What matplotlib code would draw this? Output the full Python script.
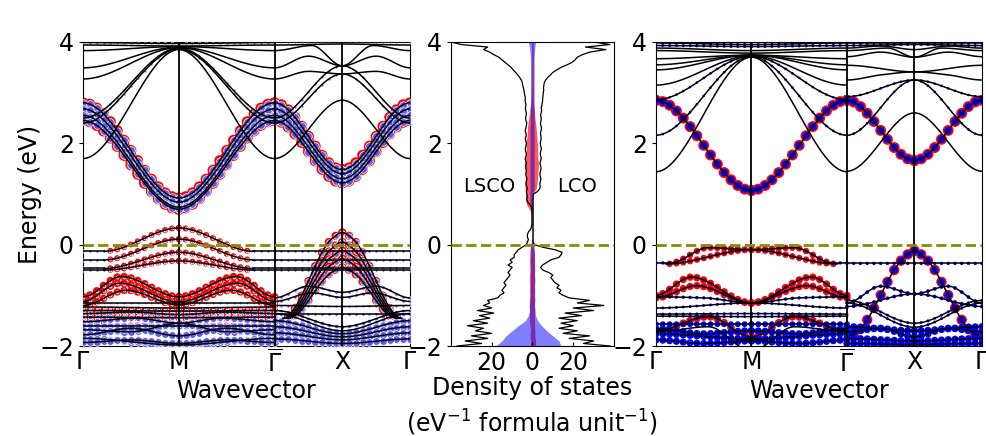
import numpy as np
import matplotlib.pyplot as plt

# path Γ - M - Γ̄ - X - Γ (Γ-M taken as unit length)
k_ticks = [0.0, 1.0, 2.0, 2.707, 3.414]
k_names = [r'$\Gamma$', 'M', r'$\overline{\Gamma}$', 'X', r'$\Gamma$']

# Each band: (red weight, blue weight, nodes). Nodes are (fraction, energy eV)
# along Γ->M (mirrored onto M->Γ̄) or along Γ̄->X (mirrored onto X->Γ).
lsco_gm = [
    (0, 0.15, [(0, 3.99), (1, 3.97)]),
    (0, 0, [(0, 3.94), (1, 3.92)]),
    (0, 0, [(0, 3.83), (1, 3.91)]),
    (0, 0, [(0, 3.49), (1, 3.90)]),
    (0, 0, [(0, 3.27), (1, 3.89)]),
    (0, 0.15, [(0, 2.50), (1, 3.88)]),
    (0, 0.15, [(0, 2.40), (1, 3.86)]),
    (0, 0, [(0, 1.70), (1, 3.85)]),
    (1, 1, [(0, 2.80), (1, 0.92)]),
    (1, 1, [(0, 2.68), (1, 0.84)]),
    (1, 1, [(0, 2.55), (1, 0.74)]),
    (1, 1, [(0, 2.45), (1, 0.70)]),
    (0, 0.18, [(0, -0.13), (0.22, -0.13)]),
    (0.3, 0.15, [(0.22, -0.13), (1, 0.33)]),
    (0, 0.18, [(0, -0.30), (0.22, -0.30)]),
    (0.3, 0.15, [(0.22, -0.30), (1, 0.11)]),
    (0, 0.18, [(0, -0.47), (0.22, -0.47)]),
    (0.3, 0.15, [(0.22, -0.47), (1, -0.15)]),
    (0, 0.18, [(0, -0.50), (0.22, -0.50)]),
    (0.3, 0.15, [(0.22, -0.50), (1, -0.32)]),
    (0.5, 0.15, [(0, -1.03), (0.40, -0.63), (1, -1.03)]),
    (0.5, 0.15, [(0, -1.12), (0.38, -0.76), (1, -1.13)]),
    (0.45, 0.15, [(0, -1.20), (0.45, -0.90), (1, -1.19)]),
    (0, 0.12, [(0, -1.16), (1, -1.16)]),
    (0, 0.12, [(0, -1.23), (1, -1.25)]),
    (0.4, 0.3, [(0, -1.30), (1, -1.31)]),
    (0.4, 0.3, [(0, -1.36), (0.5, -1.33), (1, -1.38)]),
    (0.4, 0.4, [(0, -1.43), (1, -1.44)]),
    (0.35, 0.6, [(0, -1.52), (0.55, -1.45), (1, -1.55)]),
    (0.35, 0.8, [(0, -1.60), (1, -1.60)]),
    (0.3, 1.0, [(0, -1.68), (0.5, -1.72), (1, -1.55)]),
    (0.35, 1.0, [(0, -1.78), (0.5, -1.65), (1, -1.80)]),
    (0.3, 1.0, [(0, -1.85), (1, -1.98)]),
    (0.3, 1.0, [(0, -1.93), (0.5, -1.88), (1, -1.95)]),
]
lsco_gx = [
    (0, 0.15, [(0, 3.99), (1, 3.99)]),
    (0, 0, [(0, 3.94), (1, 3.96)]),
    (0, 0, [(0, 3.83), (0.55, 3.93), (1, 3.53)]),
    (0, 0, [(0, 3.49), (0.5, 3.72), (1, 3.53)]),
    (0, 0, [(0, 3.27), (0.5, 3.42), (1, 3.37)]),
    (0, 0.15, [(0, 2.50), (1, 3.53)]),
    (0, 0.15, [(0, 2.40), (1, 3.37)]),
    (0, 0, [(0, 1.70), (1, 2.85)]),
    (1, 1, [(0, 2.80), (1, 1.48)]),
    (1, 1, [(0, 2.68), (1, 1.40)]),
    (1, 1, [(0, 2.55), (1, 1.30)]),
    (1, 1, [(0, 2.45), (1, 1.22)]),
    (0, 0.18, [(0, -0.13), (1, -0.13)]),
    (0, 0.18, [(0, -0.30), (1, -0.30)]),
    (0, 0.18, [(0, -0.46), (1, -0.46)]),
    (0, 0.18, [(0, -0.50), (1, -0.50)]),
    (0.55, 0.5, [(0.12, -1.45), (0.85, 0.12), (1, 0.24)]),
    (0.55, 0.5, [(0.14, -1.45), (0.85, -0.07), (1, 0.05)]),
    (0.55, 0.5, [(0.16, -1.45), (0.85, -0.23), (1, -0.12)]),
    (0.55, 0.5, [(0.18, -1.45), (0.85, -0.38), (1, -0.28)]),
    (0.55, 0.5, [(0.20, -1.45), (0.85, -0.54), (1, -0.45)]),
    (0, 0.2, [(0, -1.05), (0.5, -0.82), (1, -0.94)]),
    (0, 0.2, [(0, -1.12), (0.55, -0.95), (1, -1.04)]),
    (0, 0.15, [(0, -1.20), (1, -1.22)]),
    (0, 0.2, [(0, -1.37), (1, -1.37)]),
    (0, 0.3, [(0, -1.30), (1, -1.62)]),
    (0, 0.3, [(0, -1.36), (1, -1.70)]),
    (0.25, 0.9, [(0, -1.50), (1, -1.76)]),
    (0.25, 1.0, [(0, -1.62), (1, -1.82)]),
    (0.25, 1.0, [(0, -1.74), (1, -1.88)]),
    (0.25, 1.0, [(0, -1.86), (1, -1.95)]),
]
lco_gm = [
    (0, 0.15, [(0, 3.98), (1, 3.95)]),
    (0, 0.15, [(0, 3.93), (1, 3.91)]),
    (0, 0, [(0, 3.88), (1, 3.83)]),
    (0, 0, [(0, 3.83), (1, 3.78)]),
    (0, 0, [(0, 3.67), (1, 3.74)]),
    (0, 0, [(0, 3.55), (1, 3.74)]),
    (0, 0, [(0, 3.45), (1, 3.74)]),
    (0, 0, [(0, 3.15), (1, 3.73)]),
    (0, 0.12, [(0, 2.86), (1, 3.72)]),
    (0, 0.12, [(0, 2.16), (1, 3.71)]),
    (0, 0, [(0, 1.44), (1, 3.70)]),
    (1, 1, [(0, 2.85), (1, 1.07)]),
    (0, 0.2, [(0, -0.36), (0.15, -0.36)]),
    (0.35, 0.15, [(0.15, -0.36), (0.55, -0.06), (1, -0.10)]),
    (0.35, 0.15, [(0.10, -0.38), (1, -0.10)]),
    (0.45, 0.15, [(0, -1.00), (0.37, -0.64), (1, -1.15)]),
    (0.45, 0.15, [(0, -1.05), (0.42, -0.81), (1, -1.15)]),
    (0, 0.2, [(0, -1.03), (0.5, -1.05), (1, -1.15)]),
    (0, 0.15, [(0, -1.25), (1, -1.15)]),
    (0, 0.15, [(0, -1.37), (1, -1.36)]),
    (0, 0.15, [(0, -1.41), (1, -1.42)]),
    (0.5, 0.2, [(0, -1.70), (0.55, -1.42), (1, -1.82)]),
    (0, 0.6, [(0, -1.57), (1, -1.57)]),
    (0, 0.9, [(0, -1.66), (0.5, -1.76), (1, -1.70)]),
    (0, 0.9, [(0, -1.76), (1, -1.86)]),
    (0, 0.9, [(0, -1.88), (0.5, -1.95), (1, -1.90)]),
    (0, 0, [(0, -1.72), (0.55, -1.62), (1, -2.10)]),
]
lco_gx = [
    (0, 0.15, [(0, 3.98), (1, 3.98)]),
    (0, 0.15, [(0, 3.93), (1, 3.95)]),
    (0, 0, [(0, 3.88), (0.5, 3.92), (1, 3.85)]),
    (0, 0, [(0, 3.83), (0.6, 3.88), (1, 3.70)]),
    (0, 0, [(0, 3.71), (0.5, 3.80), (1, 3.70)]),
    (0, 0, [(0, 3.54), (1, 3.41)]),
    (0, 0, [(0, 3.25), (0.5, 3.35), (1, 3.41)]),
    (0, 0.12, [(0, 2.92), (1, 3.25)]),
    (0, 0.12, [(0, 2.16), (1, 3.25)]),
    (0, 0, [(0, 1.45), (1, 2.60)]),
    (1, 1, [(0, 2.85), (1, 1.66)]),
    (0, 0.2, [(0, -0.37), (1, -0.37)]),
    (0.9, 1, [(0.05, -1.78), (0.85, -0.25), (1, -0.12)]),
    (0, 0.25, [(0, -1.15), (0.5, -0.82), (1, -0.97)]),
    (0, 0.25, [(0, -1.22), (1, -0.97)]),
    (0, 0.15, [(0, -1.10), (1, -1.55)]),
    (0, 0.15, [(0, -1.15), (1, -1.63)]),
    (0, 0.9, [(0, -1.62), (1, -1.70)]),
    (0, 0.9, [(0, -1.72), (0.5, -1.65), (1, -1.82)]),
    (0, 0.9, [(0, -1.85), (1, -1.90)]),
    (0, 0.9, [(0, -1.95), (1, -1.97)]),
]

# density of states, eV^-1 per formula unit, on a 0.05 eV grid from -2 to 4 eV
lsco_dos = [37, 25, 33, 22, 30, 20, 28, 24, 32, 22, 29, 21, 26, 19, 27, 20, 24, 21, 22, 17,
            16, 14, 15, 14, 13, 14, 13, 12, 11, 12,
            11, 10, 12, 10, 11, 9, 9, 8, 7, 5,
            3, 2.5, 2, 2.5, 2.5, 2, 1, 0.5, 0.3, 0.3,
            0.3, 0.3, 0.3, 0.3, 0.3, 0.5, 1.5, 2.5, 2.8, 2.6,
            2.8, 3.0, 2.6, 2.8, 3.2, 3.0, 2.7, 3.1, 3.3, 3.0,
            3.2, 3.4, 3.0, 3.3, 3.6, 3.2, 3.0, 3.4, 3.5, 3.2,
            3.0, 3.3, 3.5, 3.1, 3.2, 3.6, 3.3, 3.0, 2.8, 3.2,
            3.4, 3.1, 3.0, 3.3, 3.5, 3.2, 3.4, 3.6, 3.5, 3.8,
            4.0, 4.2, 4.5, 4.8, 5.0, 5.5, 6.3, 7.2, 8.3, 9.5,
            10.5, 12.0, 13.5, 15.0, 16.5, 19.0, 21.0, 24.0, 22.0, 35.0,
            40]
lco_dos = [38, 25, 30, 18, 28, 15, 22, 13, 20, 14, 22, 13, 24, 16, 30, 20, 35, 22, 28, 18,
           15, 13, 14, 12, 13, 11, 10, 9, 10, 8,
           5, 4, 5, 7, 9, 13, 14, 14.5, 11, 5,
           1, 0.3, 0.3, 0.3, 0.3, 0.3, 0.3, 0.3, 0.3, 0.3,
           0.3, 0.3, 0.3, 0.3, 0.3, 0.3, 0.3, 0.3, 0.3, 0.3,
           0.5, 2.5, 3.5, 3.8, 3.6, 3.9, 4.1, 3.8, 3.6, 3.9,
           4.2, 4.0, 3.7, 3.9, 4.3, 4.0, 3.8, 4.1, 4.4, 4.0,
           3.8, 4.0, 4.3, 4.1, 3.9, 4.2, 4.4, 4.1, 3.9, 4.2,
           4.3, 4.0, 4.2, 4.5, 4.3, 4.6, 4.8, 5.0, 5.0, 5.2,
           5.3, 5.5, 5.4, 5.6, 5.8, 6.5, 7.5, 8.8, 10.0, 12.0,
           14.0, 17.0, 19.5, 21.0, 22.0, 24.5, 28.0, 36.0, 26.0, 38.0,
           30]

# projected DOS on a 0.1 eV grid from -2 to 4 eV
lsco_red = [1.0, 1.0, 1.2, 1.0, 1.2, 1.5,
            1.5, 1.4, 1.6, 1.5, 1.3, 1.5, 1.4, 1.6, 1.5, 1.3, 1.4, 1.5, 1.3, 1.2,
            1.0,
            0.3, 0.3, 0.3, 0.3, 0.3, 0.3,
            1.5,
            3.0, 3.5, 3.2, 3.6, 3.8, 3.5, 3.3, 3.6, 3.9, 3.6,
            3.2, 3.0, 3.3, 2.8, 2.6, 2.5, 2.2, 1.8, 1.5, 1.2,
            0.8, 0.6, 0.5, 0.5, 0.4, 0.4, 0.4, 0.4, 0.4, 0.4, 0.4, 0.4, 0.4]
lsco_blue = [18, 15, 13, 10, 7, 3.5,
             2.0, 1.5, 1.5, 1.2, 1.2, 1.0, 1.0, 1.0, 1.0, 1.0, 1.0, 1.0, 1.0, 1.0,
             0.8,
             0.2, 0.2, 0.2, 0.2, 0.2, 0.2,
             0.8,
             1.2, 1.2, 1.3, 1.2, 1.2, 1.3, 1.2, 1.2, 1.3, 1.2,
             1.2, 1.2, 1.3, 1.2, 1.2, 1.2, 1.1, 1.1, 1.0, 1.0,
             1.0, 1.0, 1.0, 1.0, 1.0, 1.0, 1.0, 1.0, 1.0, 1.0, 1.2, 1.5, 2.0]
lco_red = [1.5, 1.5, 1.2, 1.2, 1.0, 1.0,
           1.0, 1.1, 1.0, 1.2, 1.0, 1.1, 1.0, 1.2, 1.0, 1.1, 1.0, 1.0, 1.0, 0.8,
           0.5,
           0.1, 0.1, 0.1, 0.1, 0.1, 0.1,
           0.1,
           0.1, 0.1, 0.1, 1.8, 2.2, 2.5, 2.6, 2.8, 3.0, 2.7,
           2.5, 2.6, 2.4, 2.2, 2.0, 1.8, 1.5, 1.2, 1.0, 0.8,
           0.5, 0.5, 0.4, 0.4, 0.4, 0.4, 0.4, 0.4, 0.4, 0.4, 0.4, 0.4, 0.4]
lco_blue = [14, 13, 10, 7, 4.5, 2.5,
            1.5, 1.2, 1.0, 1.0, 1.0, 1.0, 1.0, 1.0, 1.0, 1.0, 1.0, 1.0, 1.0, 0.8,
            0.5,
            0.1, 0.1, 0.1, 0.1, 0.1, 0.1,
            0.1,
            0.1, 0.1, 0.1, 0.8, 0.8, 0.8, 0.8, 0.8, 0.8, 0.8,
            0.8, 0.8, 0.8, 0.8, 0.8, 0.8, 0.8, 0.8, 0.8, 0.8,
            0.8, 0.8, 0.8, 0.8, 0.8, 0.8, 0.8, 0.8, 0.8, 0.8, 1.0, 1.2, 1.5]

dos_energy = np.linspace(-2, 4, len(lsco_dos))
proj_energy = np.linspace(-2, 4, len(lsco_red))


def smooth(nodes, t):
    # monotone cubic through the nodes, flat at both ends
    x = np.array([p[0] for p in nodes], float)
    y = np.array([p[1] for p in nodes], float)
    h = np.diff(x)
    d = np.diff(y) / h
    m = np.zeros_like(y)
    for i in range(1, len(x) - 1):
        if d[i - 1] * d[i] > 0:
            w1 = 2 * h[i] + h[i - 1]
            w2 = h[i] + 2 * h[i - 1]
            m[i] = (w1 + w2) / (w1 / d[i - 1] + w2 / d[i])
    i = np.clip(np.searchsorted(x, t) - 1, 0, len(x) - 2)
    s = (t - x[i]) / h[i]
    return ((2 * s**3 - 3 * s**2 + 1) * y[i] + (s**3 - 2 * s**2 + s) * h[i] * m[i]
            + (-2 * s**3 + 3 * s**2) * y[i + 1] + (s**3 - s**2) * h[i] * m[i + 1])


def to_k(frac, seg):
    if seg == 0:
        return [frac, 2.0 - frac]
    return [2.0 + 0.707 * frac, 3.414 - 0.707 * frac]


def draw_bands(ax, bands, seg, blue_col, blue_edge):
    step = 1 / 14 if seg == 0 else 1 / 10
    for wr, wb, nodes in bands:
        f0, f1 = nodes[0][0], nodes[-1][0]
        t = np.linspace(f0, f1, 80)
        e = smooth(nodes, t)
        for k in to_k(t, seg):
            ax.plot(k, e, color='k', lw=1.1, zorder=4)
        tm = np.arange(np.ceil(f0 / step - 1e-6), np.floor(f1 / step + 1e-6) + 1) * step
        em = smooth(nodes, tm)
        for k in to_k(tm, seg):
            if wr > 0:
                ax.scatter(k, em, s=62 * wr, color='red', edgecolors='none', zorder=2)
            if wb > 0:
                ax.scatter(k, em, s=30 * wb, color=blue_col,
                           edgecolors=blue_edge, linewidths=0.5, zorder=3)


def band_panel(ax, gm, gx, blue_col, blue_edge):
    draw_bands(ax, gm, 0, blue_col, blue_edge)
    draw_bands(ax, gx, 1, blue_col, blue_edge)
    for k in k_ticks[1:-1]:
        ax.axvline(k, color='k', lw=1.3, zorder=5)
    ax.axhline(0, color='#8a8a00', lw=2, ls='--', zorder=6)
    ax.set_xlim(k_ticks[0], k_ticks[-1])
    ax.set_ylim(-2, 4)
    ax.set_xticks(k_ticks)
    ax.set_xticklabels(k_names)
    ax.set_yticks([-2, 0, 2, 4])
    ax.tick_params(axis='x', length=0, labelsize=17, pad=3)
    ax.tick_params(axis='y', direction='out', length=3, labelsize=17)
    ax.set_xlabel('Wavevector', fontsize=17, labelpad=1)


fig = plt.figure(figsize=(9.87, 4.36), dpi=100)
ax1 = fig.add_axes([0.0841, 0.2064, 0.3313, 0.6973])
ax2 = fig.add_axes([0.4569, 0.2064, 0.1652, 0.6973])
ax3 = fig.add_axes([0.6646, 0.2064, 0.3303, 0.6973])

band_panel(ax1, lsco_gm, lsco_gx, (0.36, 0.36, 0.95), 'white')
band_panel(ax3, lco_gm, lco_gx, 'blue', 'none')
ax1.set_ylabel('Energy (eV)', fontsize=17, labelpad=-2)

# LSCO to the left, LCO to the right
ax2.fill_betweenx(proj_energy, 0, -np.array(lsco_red), color='red', alpha=0.65, lw=0)
ax2.fill_betweenx(proj_energy, 0, lco_red, color='red', alpha=0.65, lw=0)
ax2.fill_betweenx(proj_energy, 0, -np.array(lsco_blue), color='blue', alpha=0.5, lw=0)
ax2.fill_betweenx(proj_energy, 0, lco_blue, color='blue', alpha=0.5, lw=0)
ax2.plot(-np.array(lsco_dos), dos_energy, color='k', lw=0.9)
ax2.plot(lco_dos, dos_energy, color='k', lw=0.9)
ax2.axhline(0, color='#8a8a00', lw=2, ls='--', zorder=6)
ax2.text(-21, 1.15, 'LSCO', fontsize=14, ha='center', va='center')
ax2.text(22, 1.15, 'LCO', fontsize=14, ha='center', va='center')
ax2.set_xlim(-40, 40)
ax2.set_ylim(-2, 4)
ax2.set_xticks([-20, 0, 20])
ax2.set_xticklabels(['20', '0', '20'])
ax2.set_yticks([-2, 0, 2, 4])
ax2.tick_params(axis='x', direction='in', length=3, labelsize=17)
ax2.tick_params(axis='y', direction='out', length=3, labelsize=17)
ax2.set_xlabel('Density of states\n(eV$^{-1}$ formula unit$^{-1}$)', fontsize=17,
               labelpad=1, linespacing=1.3)

fig.savefig('out.png', dpi=100)
